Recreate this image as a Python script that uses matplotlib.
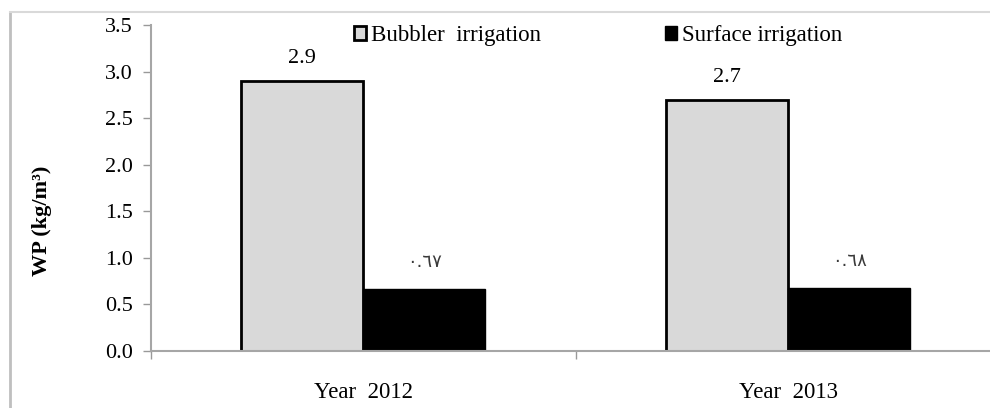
import matplotlib.pyplot as plt
from matplotlib.lines import Line2D
from matplotlib.patches import Patch

# water productivity per season
years = ['Year  2012', 'Year  2013']
bubbler = [2.9, 2.7]
surface = [0.67, 0.68]
bubbler_labels = ['2.9', '2.7']
surface_labels = ['٠.٦٧', '٠.٦٨']

plt.rcParams['font.family'] = ['Liberation Serif', 'DejaVu Sans']

fig = plt.figure(figsize=(9.9, 4.08), dpi=100)
ax = fig.add_axes([151 / 990, 57 / 408, 1 - 151 / 990, 326 / 408])

x = range(len(years))
w = 0.287
b1 = ax.bar([i - w / 2 for i in x], bubbler, w, color='#d9d9d9',
            edgecolor='black', linewidth=2, label='Bubbler  irrigation')
b2 = ax.bar([i + w / 2 for i in x], surface, w, color='black',
            edgecolor='black', linewidth=1, label='Surface irrigation')

for rect, txt in zip(b1, bubbler_labels):
    ax.annotate(txt, (rect.get_x() + rect.get_width() / 2, rect.get_height()),
                xytext=(0, 9), textcoords='offset points', ha='center',
                va='bottom', fontsize=16)
for rect, txt in zip(b2, surface_labels):
    ax.annotate(txt, (rect.get_x() + rect.get_width() / 2, rect.get_height()),
                xytext=(0, 13), textcoords='offset points', ha='center',
                va='bottom', fontsize=13, color='#3a3a3a',
                family=['DejaVu Sans'])

ax.set_xlim(-0.5, 1.5 - 10.5 / 425)
ax.set_ylim(0, 3.5)
ax.set_yticks([0, 0.5, 1, 1.5, 2, 2.5, 3, 3.5])
ax.set_yticklabels(['%.1f' % v for v in ax.get_yticks()], fontsize=16)
ax.set_xticks(list(x))
ax.set_xticklabels(years, fontsize=16.5)
ax.tick_params(axis='x', length=0, pad=22)
ax.tick_params(axis='y', length=6, color='#999999', width=1, pad=7)
# category boundary tick
ax.set_xticks([-0.5, 0.5], minor=True)
ax.tick_params(axis='x', which='minor', length=6, color='#999999', width=1)

for s in ['top', 'right']:
    ax.spines[s].set_visible(False)
for s in ['left', 'bottom']:
    ax.spines[s].set_color('#a6a6a6')
    ax.spines[s].set_linewidth(1.5)

ax.set_ylabel('WP (kg/m³)', fontsize=16, fontweight='bold')
ax.yaxis.set_label_coords(-0.118, 0.40)

handles = [Patch(facecolor='#d9d9d9', edgecolor='black', linewidth=2),
           Patch(facecolor='black', edgecolor='black')]
ax.legend(handles, ['Bubbler  irrigation', 'Surface irrigation'], ncol=2,
          loc='center', bbox_to_anchor=(598 / 990, 1 - 36 / 408),
          bbox_transform=fig.transFigure, frameon=False, fontsize=16.5,
          handlelength=0.55, handleheight=0.55, handletextpad=0.2,
          columnspacing=5.4)

# outer frame of the chart area
fig.add_artist(Line2D([10 / 990, 10 / 990], [0, 1 - 12 / 408],
                      transform=fig.transFigure, color='#bfbfbf', lw=2))
fig.add_artist(Line2D([10 / 990, 1], [1 - 12 / 408, 1 - 12 / 408],
                      transform=fig.transFigure, color='#d9d9d9', lw=1.5))

fig.savefig('out.png', dpi=100)
